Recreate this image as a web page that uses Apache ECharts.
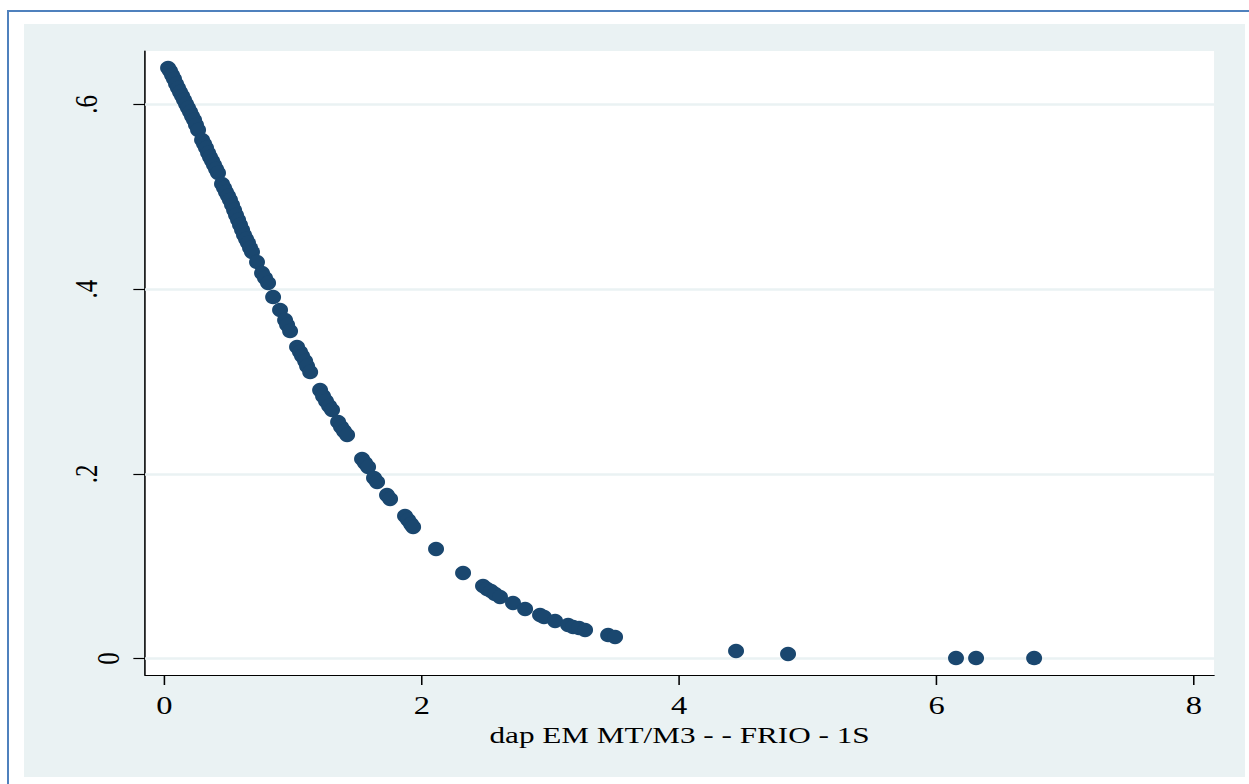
<!DOCTYPE html>
<html>
<head>
<meta charset="utf-8">
<script src="https://cdn.jsdelivr.net/npm/echarts@6/dist/echarts.min.js"></script>
<style>
  html, body { margin: 0; padding: 0; background: #ffffff; width: 1249px; height: 784px; overflow: hidden; }
  #frame { position: absolute; left: 7px; top: 10px; width: 1250px; height: 790px;
           border-left: 2px solid #4f81bd; border-top: 2px solid #4f81bd; }
  #chart { position: absolute; left: 0; top: 0; width: 961px; height: 784px;
           transform: scaleX(1.2997); transform-origin: 0 0; }
</style>
</head>
<body>
<div id="frame"></div>
<div id="chart"></div>
<script>
// ---- data ----
const xValues = [
  0.029, 0.044, 0.060, 0.075, 0.091, 0.106, 0.122, 0.138, 0.153, 0.169, 0.184, 0.200, 0.215, 0.231, 0.246, 0.262,
  0.293, 0.309, 0.324, 0.340, 0.355, 0.371, 0.386, 0.402, 0.417,
  0.448, 0.464, 0.479, 0.495, 0.510, 0.526, 0.542, 0.557, 0.573, 0.588, 0.604, 0.619, 0.635, 0.650, 0.666, 0.681,
  0.720, 0.759, 0.782, 0.806, 0.845, 0.899, 0.938, 0.954, 0.977,
  1.031, 1.054, 1.070, 1.094, 1.109, 1.133,
  1.210, 1.233, 1.256, 1.280, 1.303,
  1.350, 1.373, 1.396, 1.420,
  1.536, 1.559, 1.583, 1.629, 1.653, 1.730, 1.754,
  1.870, 1.894, 1.917, 1.933, 2.111, 2.321,
  2.476, 2.507, 2.538, 2.570, 2.608, 2.709, 2.803, 2.919, 2.950, 3.036,
  3.137, 3.176, 3.222, 3.269, 3.448, 3.502,
  4.442, 4.846, 6.151, 6.307, 6.758
];
const yValues = [
  0.6394, 0.6362, 0.6318, 0.6275, 0.6221, 0.6178, 0.6134, 0.6091, 0.6048, 0.6004, 0.5961, 0.5918, 0.5874, 0.5831, 0.5777, 0.5723,
  0.5615, 0.5571, 0.5528, 0.5474, 0.5430, 0.5387, 0.5344, 0.5300, 0.5257,
  0.5138, 0.5095, 0.5051, 0.5008, 0.4965, 0.4911, 0.4856, 0.4802, 0.4748, 0.4694, 0.4640, 0.4586, 0.4542, 0.4499, 0.4445, 0.4402,
  0.4293, 0.4174, 0.4120, 0.4066, 0.3914, 0.3774, 0.3665, 0.3611, 0.3546,
  0.3373, 0.3319, 0.3276, 0.3221, 0.3167, 0.3102,
  0.2907, 0.2842, 0.2788, 0.2734, 0.2691,
  0.2561, 0.2507, 0.2463, 0.2420,
  0.2160, 0.2117, 0.2074, 0.1955, 0.1911, 0.1770, 0.1727,
  0.1543, 0.1500, 0.1456, 0.1424, 0.1186, 0.0926,
  0.0785, 0.0753, 0.0731, 0.0698, 0.0666, 0.0601, 0.0536, 0.0471, 0.0449, 0.0406,
  0.0363, 0.0341, 0.0330, 0.0309, 0.0254, 0.0233,
  0.0081, 0.0049, 0.0005, 0.0005, 0.0005
];
const xTicks = [0, 2, 4, 6, 8];
const yTicks = [0, 0.2, 0.4, 0.6];
const xTitle = 'dap EM MT/M3 - - FRIO - 1S';

const points = xValues.map((x, i) => [x, yValues[i]]);
const fmtY = v => (v === 0 ? '{z|0}' : '{d|' + String(v).replace(/^0/, '') + '}');
const FONT = '"Liberation Serif", "Times New Roman", serif';

const chart = echarts.init(document.getElementById('chart'), null, { renderer: 'svg' });
chart.setOption({
  animation: false,
  backgroundColor: 'transparent',
  graphic: {
    elements: [{
      type: 'rect', z: -100, silent: true,
      shape: { x: 18.5, y: 24, width: 939.4, height: 753 },
      style: { fill: '#eaf2f3' }
    }]
  },
  grid: {
    left: 111.6, right: 26.9, top: 51, bottom: 109,
    show: true, backgroundColor: '#ffffff', borderWidth: 0
  },
  xAxis: {
    type: 'value', min: -0.150, max: 8.156,
    axisLine: { show: true, onZero: false, lineStyle: { color: '#000', width: 1.2 } },
    axisTick: { show: true, length: 10, customValues: xTicks, lineStyle: { color: '#000', width: 1.2 } },
    axisLabel: { show: true, customValues: xTicks, margin: 18, fontFamily: FONT, fontSize: 25, color: '#000',
                 formatter: v => String(v) },
    splitLine: { show: false },
    name: xTitle, nameLocation: 'middle', nameGap: 46,
    nameTextStyle: { fontFamily: FONT, fontSize: 24, color: '#000' }
  },
  yAxis: {
    type: 'value', min: -0.0179, max: 0.6578,
    axisLine: { show: true, onZero: false, lineStyle: { color: '#000', width: 1.2 } },
    axisTick: { show: true, length: 9, customValues: yTicks, lineStyle: { color: '#000', width: 1.2 } },
    axisLabel: { show: true, customValues: yTicks, rotate: 90, margin: 16, fontFamily: FONT, fontSize: 25, color: '#000',
                 formatter: fmtY,
                 rich: {
                   z: { fontFamily: FONT, fontSize: 25, color: '#000' },
                   d: { fontFamily: FONT, fontSize: 25, color: '#000', padding: [0, 0, 17, 0] }
                 } },
    splitLine: { show: false }
  },
  series: [
    {
      type: 'scatter', data: [], z: 1, silent: true,
      markLine: {
        z: 1, silent: true, symbol: ['none', 'none'], animation: false,
        label: { show: false },
        lineStyle: { color: '#eaf2f3', width: 2.5, type: 'solid' },
        emphasis: { disabled: true },
        data: yTicks.map(v => ({ yAxis: v }))
      }
    },
    {
      type: 'scatter', z: 3, data: points,
      symbol: 'circle', symbolSize: [12.3, 14.5],
      itemStyle: { color: '#1a476f', opacity: 1 }
    }
  ]
});
</script>
</body>
</html>
